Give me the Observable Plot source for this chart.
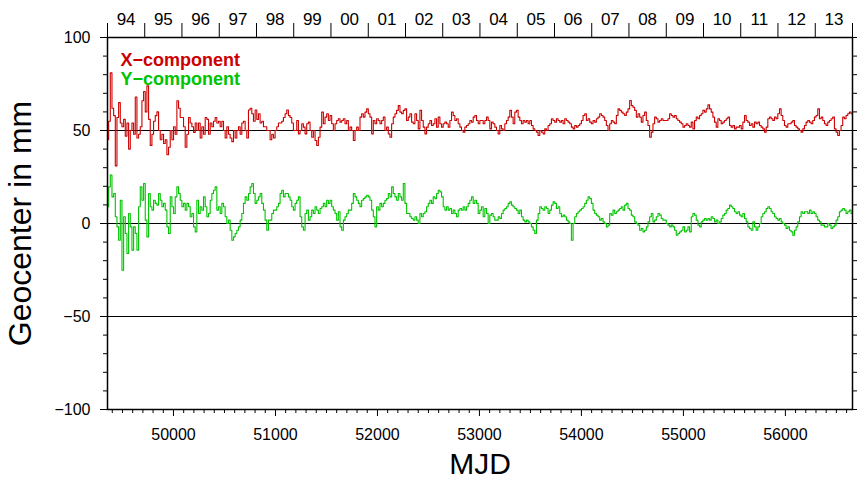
<!DOCTYPE html>
<html>
<head>
<meta charset="utf-8">
<script src="https://cdn.jsdelivr.net/npm/d3@7"></script>
<script src="https://cdn.jsdelivr.net/npm/@observablehq/plot@0.6"></script>
<style>
  html, body { margin: 0; padding: 0; background: #fff; }
  #chart svg { font-family: "Liberation Sans", Arial, Helvetica, sans-serif; display: block; }
</style>
</head>
<body>
<div id="chart"></div>
<script>
// ---- data (mm), regularly sampled from first to last MJD ----
const mjdFirst = 49356;
const mjdLast = 56652;

const xComponent = [
45,55,81,62,58,31,57,65,54,52,
56,47,54,40,50,54,48,68,46,48,
52,66,71,60,74,56,42,48,55,58,
60,50,45,48,43,45,37,41,50,45,
52,48,66,62,57,57,52,41,48,57,
54,52,49,54,50,54,46,52,48,57,
56,48,54,52,55,57,54,55,52,55,
50,46,52,48,46,44,50,46,50,52,
48,54,55,50,46,61,62,59,55,61,
56,59,54,55,52,52,50,50,45,48,
46,50,52,54,54,55,57,59,61,58,
57,54,50,50,
55.4,48.2,50,53.6,51.8,48.2,53.6,54.5,50,46.4,
50,44.6,41.9,46.4,51.8,59.9,53.6,57.2,59,55.4,
58.1,53.6,50,53.6,55.4,56.3,54.5,55.4,56.3,53.6,
55.4,50,51.8,50,44.6,50,51.8,50,57.2,59,
57.2,59.9,61.6,59,57.2,48.2,55.4,53.6,56.3,55.4,
53.6,55.4,57.2,50,51.8,48.2,46.4,53.6,57.2,59,
60.8,63.4,59.9,59,60.8,61.6,55.4,57.2,59,54.5,
53.6,59,55.4,50.9,60.8,55.4,51.8,48.2,51.8,53.6,
55.4,52.7,53.6,56.3,51.8,57.2,53.6,51.8,53.6,54.5,
53.6,51.8,55.4,59.9,58.1,55.4,56.3,53.6,51.8,50,
49.1,51.8,52.7,53.6,55.4,54.5,57.2,58.1,55.4,53.6,55.4,
55.4,53.6,55.4,57.2,55.4,50.9,54.5,53.6,51.8,50,
48.2,52.7,50.9,50,53.6,55.4,57.2,60.8,57.2,53.6,
59.9,60.8,57.2,55.4,53.6,55.4,54.5,55.4,53.6,55.4,
52.7,50.9,50,49.1,47.3,50,49.1,48.2,50.9,50,
52.7,53.6,56.3,55.4,54.5,56.3,55.4,54.5,55.4,53.6,
56.3,55.4,54.5,53.6,51.8,50.9,52.7,51.8,52.7,53.6,
55.4,58.1,59,55.4,56.3,54.5,53.6,55.4,54.5,56.3,
57.2,59,58.1,57.2,55.4,52.7,50,53.6,55.4,54.5,
53.6,58.1,61.6,60.8,59.9,59,58.1,59.9,61.6,66.1,
63.4,62.5,60.8,57.2,59,57.2,54.5,58.1,59.9,55.4,
52.7,46.4,49.1,53.6,57.2,56.3,54.5,55.4,56.3,55.4,55.4,
55.4,56.3,59,58.1,57.2,58.1,56.3,55.4,54.5,53.6,
51.8,52.7,53.6,52.7,51.8,54.5,50.9,55.4,57.2,56.3,
58.1,59,60.8,59.9,61.6,63.8,61.6,59.9,57.2,54.5,
51.8,56.3,55.4,53.6,54.5,55.4,56.3,57.2,52.7,51.8,
52.7,50.9,51.8,51.8,52.7,50.9,54.5,58.1,55.4,54.5,
52.7,53.6,51.8,54.5,53.6,54.5,52.7,51.8,50.9,49.1,
51.8,56.3,57.2,56.3,55.4,57.2,56.3,59,61.6,58.1,
55.4,52.7,51.8,53.6,53.6,54.5,55.4,52.7,51.8,50.9,
50,49.1,50.9,52.7,54.5,55.4,54.5,53.6,55.4,57.2,
58.1,61.6,56.3,57.2,55.4,53.6,52.7,54.5,55.4,56.3,
57.2,50.9,49.1,47.3,50,52.7,57.2,56.3,58.1,59,59.9,59
];

const yComponent = [
9,19.7,26,14.3,16.1,3.6,-1.8,-9,12.5,-25.1,
3.6,-5.4,-16.1,5.4,-1.8,-14.3,-1.8,-5.4,-14.3,9,
19.7,12.5,21.5,1.8,-7.2,16.1,9,7.2,12.5,10.8,
9.9,16.1,12.5,9,10.8,7.2,-1.8,-5.4,14.3,9,
5.4,14.3,19.7,16.1,12.5,9,10.8,7.2,10.8,9,
3.6,5.4,-1.8,-4.5,12.5,5.4,9,7.2,14.3,9,
3.6,5.4,12.5,16.1,17.9,19.7,7.2,9,5.4,10.8,
9,3.6,0,1.8,-3.6,-9,-7.2,-5.4,-3.6,-1.8,
1.8,5.4,10.8,14.3,12.5,16.1,19.7,21.5,16.1,10.8,
12.5,14.3,16.1,10.8,7.2,1.8,-3.6,1.8,1.8,5.4,
7.2,7.2,9,10.8,16.1,17.9,14.3,16.1,16.1,14.3,
12.5,9,7.2,10.8,
12.5,14.3,3.6,-1.8,-3.6,5.4,7.2,1.8,3.6,7.2,
5.4,9,7.2,5.4,8.1,9,10.8,9,12.5,10.8,
12.5,9,7.2,5.4,1.8,6.3,-1.8,-3.6,1.8,3.6,
5.4,7.2,7.2,10.8,16.1,14.3,12.5,10.8,9,12.5,
13.4,14.3,15.2,14.3,12.5,7.2,3.6,-1.8,9,7.2,
10.8,9,10.8,12.5,13.4,16.1,14.3,19.7,16.1,14.3,
12.5,16.1,14.3,12.5,21.5,10.8,5.4,5.4,3.6,2.7,
1.8,3.6,1.8,0,5.4,3.6,5.4,6.3,9,10.8,
12.5,10.8,14.3,13.4,16.1,17.9,17,14.3,9,7.2,
9,7.2,8.1,5.4,7.2,5.4,3.6,7.2,8.1,7.2,
9,7.2,9,10.8,12.5,14.3,10.8,12.5,10.8,5.4,7.2,
9,3.6,8.1,5.4,0,4.5,5.4,3.6,1.8,1.8,
3.6,2.7,5.4,7.2,8.1,9,10.8,11.6,9.9,9,
8.1,7.2,5.4,7.2,3.6,1.8,0.9,1.8,0.9,0,
-1.8,-3.6,-5.4,1.8,5.4,9,8.1,7.2,9,8.1,
5.4,7.2,9.9,11.6,10.8,8.1,9,5.4,3.6,4.5,
3.6,1.8,0.9,0,-9,0,3.6,5.4,6.3,7.2,
8.1,9,10.8,12.5,14.3,13.4,10.8,7.2,5.4,4.5,
3.6,1.8,2.7,0.9,0,-1.8,-0.9,5.4,4.5,7.2,
5.4,6.3,7.2,8.1,9,7.2,9.9,10.8,8.1,7.2,
4.5,3.6,0.9,0,-0.9,-3.6,-2.7,-4.5,-3.6,-1.8,
0.9,3.6,5.4,0.9,1.8,3.6,5.4,4.5,2.7,1.8,1.8,
0,-0.9,-1.8,-0.9,-1.8,-3.6,-6.3,-5.4,-4.5,-3.6,
-1.8,-4.5,-3.6,-1.8,-4.5,3.6,5.4,4.5,1.8,-0.9,
-1.8,0.9,1.8,2.7,1.8,2.7,1.8,3.6,2.7,0.9,
1.8,0,0.9,2.7,4.5,5.4,7.2,8.1,9.9,9,
8.1,6.3,5.4,6.3,4.5,3.6,5.4,2.7,0.9,-1.8,
-2.7,-3.6,0.9,-1.8,-3.6,-1.8,0,3.6,5.4,6.3,
8.1,9,8.1,6.3,5.4,3.6,2.7,1.8,2.7,0.9,
0,-0.9,-2.7,-1.8,-3.6,-4.5,-6.3,-3.6,-1.8,0.9,
3.6,6.3,5.4,6.3,6.3,5.4,7.2,5.4,6.3,5.4,
3.6,1.8,0.9,-0.9,-0.9,-1.8,-1.8,0,-0.9,-2.7,
-1.8,-0.9,1.8,3.6,6.3,7.2,8.1,7.2,5.4,6.3,7.2,5.4
];

// year boundaries (MJD of Jan 1st) and their two-digit labels
const yearStartMJD = [49353,49718,50083,50449,50814,51179,51544,51910,52275,52640,53005,53371,53736,54101,54466,54832,55197,55562,55927,56293,56658];
const yearLabels = ["94","95","96","97","98","99","00","01","02","03","04","05","06","07","08","09","10","11","12","13"];

const mjdTicks = [50000,51000,52000,53000,54000,55000,56000];
const yTicks = [-100,-50,0,50,100];
const yGrid = [-50,0,50];
const seriesNames = ["X−component","Y−component"];
const seriesColors = ["#cc0000","#00c400"];

// ---- build ----
const n = xComponent.length;
const step = (mjdLast - mjdFirst) / (n - 1);
const rows = [];
xComponent.forEach((v, i) => rows.push({mjd: mjdFirst + i * step, v, s: seriesNames[0]}));
yComponent.forEach((v, i) => rows.push({mjd: mjdFirst + i * step, v, s: seriesNames[1]}));

const yearMid = yearLabels.map((_, i) => (yearStartMJD[i] + yearStartMJD[i + 1]) / 2);
const minorX = d3.range(49400, 56658, 100).filter(d => d % 1000 !== 0);
const minorY = d3.range(-100, 101, 10).filter(d => d % 50 !== 0);
const fmt = d => d < 0 ? "\u2212" + Math.abs(d) : String(d);
const blank = () => "";

const chart = Plot.plot({
  width: 857,
  height: 481,
  marginLeft: 107,
  marginRight: 5,
  marginTop: 37,
  marginBottom: 72,
  x: {domain: [yearStartMJD[0], yearStartMJD[yearStartMJD.length - 1]]},
  y: {domain: [-100, 100]},
  color: {domain: seriesNames, range: seriesColors},
  marks: [
    Plot.ruleY(yGrid, {stroke: "black", strokeWidth: 1}),
    Plot.line(rows, {x: "mjd", y: "v", z: "s", stroke: "s", strokeWidth: 1.1, curve: "step"}),
    Plot.frame({stroke: "black", strokeWidth: 1.5}),
    // left axis
    Plot.axisY({anchor: "left", ticks: yTicks, tickSize: 7, tickPadding: 10, fontSize: 16, tickFormat: fmt, label: null}),
    Plot.axisY({anchor: "left", ticks: minorY, tickSize: 4, tickFormat: blank, label: null}),
    // right axis
    Plot.axisY({anchor: "right", ticks: yTicks, tickSize: 7, tickFormat: blank, label: null}),
    Plot.axisY({anchor: "right", ticks: minorY, tickSize: 4, tickFormat: blank, label: null}),
    // bottom axis
    Plot.axisX({anchor: "bottom", ticks: mjdTicks, tickSize: 7, tickPadding: 12, fontSize: 16, tickFormat: d => String(d), label: null}),
    Plot.axisX({anchor: "bottom", ticks: minorX, tickSize: 4, tickFormat: blank, label: null}),
    // top axis: year boundaries and year labels
    Plot.axisX({anchor: "top", ticks: yearStartMJD, tickSize: 15, tickFormat: blank, label: null}),
    Plot.axisX({anchor: "top", ticks: yearMid, tickSize: 0, tickPadding: 13, fontSize: 17, tickFormat: (d, i) => yearLabels[i], label: null}),
    // axis titles
    Plot.text(["Geocenter in mm"], {frameAnchor: "left", dx: -87, rotate: -90, fontSize: 32, textAnchor: "middle", lineAnchor: "middle", fill: "black"}),
    Plot.text(["MJD"], {frameAnchor: "bottom", dy: 55, fontSize: 30, textAnchor: "middle", lineAnchor: "middle", fill: "black"}),
    // legend
    Plot.text([seriesNames[0]], {frameAnchor: "top-left", dx: 13, dy: 16, fontSize: 18, fontWeight: "bold", textAnchor: "start", lineAnchor: "top", fill: seriesColors[0]}),
    Plot.text([seriesNames[1]], {frameAnchor: "top-left", dx: 13, dy: 35, fontSize: 18, fontWeight: "bold", textAnchor: "start", lineAnchor: "top", fill: seriesColors[1]})
  ]
});
document.getElementById("chart").appendChild(chart);
</script>
</body>
</html>
